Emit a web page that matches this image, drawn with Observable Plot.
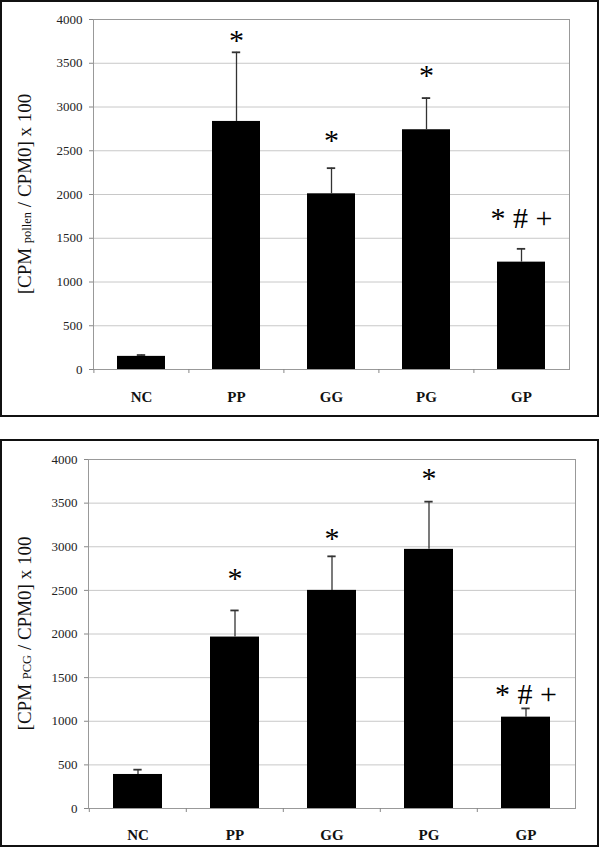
<!DOCTYPE html>
<html><head><meta charset="utf-8">
<script src="https://cdn.jsdelivr.net/npm/d3@7"></script>
<script src="https://cdn.jsdelivr.net/npm/@observablehq/plot@0.6"></script>
<style>
body{margin:0;background:#fff;}
.panel{position:absolute;left:0;width:599px;border:2px solid #111;box-sizing:border-box;background:#fff;}
.panel svg{display:block;}
</style></head><body>
<div id="p1" class="panel" style="top:0px;height:417px"></div>
<div id="p2" class="panel" style="top:439px;height:408px"></div>
<script>
// ---- data ----
const categories = ["NC", "PP", "GG", "PG", "GP"];
const yTicks = [0, 500, 1000, 1500, 2000, 2500, 3000, 3500, 4000];

// top panel: CPM pollen / CPM0 x 100
const pollenMeans  = [150, 2835, 2008, 2740, 1227];
const pollenErrors = [15, 790, 293, 362, 152];
const pollenSig    = ["", "*", "*", "*", "* # +"];
const pollenSigY   = [null, 3760, 2617, 3360, 1726];
const pollenLabel  = [["[CPM ", false], ["pollen", true], [" / CPM0] x 100", false]];

// bottom panel: CPM PCG / CPM0 x 100
const pcgMeans  = [390, 1965, 2500, 2970, 1047];
const pcgErrors = [55, 305, 390, 547, 100];
const pcgSig    = ["", "*", "*", "*", "* # +"];
const pcgSigY   = [null, 2638, 3093, 3781, 1305];
const pcgLabel  = [["[CPM ", false], ["PCG", true], [" / CPM0] x 100", false]];

const FONT = "'Liberation Serif', 'Times New Roman', serif";

function panel(el, means, errs, sig, sigY, labelParts, m, h, xPad) {
  const data = categories.map((c, i) => ({c, v: means[i], e: errs[i], s: sig[i], sy: sigY[i]}));
  const W = 595;
  const step = (W - m.left - m.right) / categories.length;
  const bw = step * 0.5;
  const chart = Plot.plot({
    width: W, height: h,
    marginLeft: m.left, marginRight: m.right, marginTop: m.top, marginBottom: m.bottom,
    style: {fontFamily: FONT, background: "#fff", color: "#111"},
    x: {domain: categories, paddingInner: 0.5, paddingOuter: 0.25, label: null},
    y: {domain: [0, 4000], label: null},
    marks: [
      Plot.gridY(yTicks.filter(t => t > 0 && t < 4000), {stroke: "#c8c8c8", strokeOpacity: 1}),
      Plot.frame({stroke: "#999"}),
      Plot.barY(data, {x: "c", y: "v", fill: "#000"}),
      Plot.ruleX(data, {x: "c", y1: "v", y2: d => d.v + d.e, stroke: "#333", strokeWidth: 1.3}),
      Plot.tickY(data, {x: "c", y: d => d.v + d.e, stroke: "#333", strokeWidth: 1.8, insetLeft: bw / 2 - 4, insetRight: bw / 2 - 4}),
      Plot.axisY({ticks: yTicks, tickFormat: d => String(d), tickSize: 4, tickPadding: 7, fontSize: 13, fontFamily: FONT, stroke: "#888", fill: "#222", label: null}),
      Plot.axisX({tickSize: 4, dx: -step / 2, tickFormat: () => "", stroke: "#888", label: null}),
      Plot.axisX({tickSize: 0, tickPadding: xPad, fontSize: 15, fontFamily: FONT, fontWeight: "bold", fill: "#111", label: null}),
      Plot.text(data.filter(d => d.s), {x: "c", y: "sy", text: "s", fontSize: 30, fontFamily: FONT, fill: "#000"})
    ]
  });
  const svg = d3.select(chart);
  const cy = (m.top + (h - m.bottom)) / 2;
  const t = svg.append("text")
    .attr("transform", `translate(29,${cy}) rotate(-90)`)
    .attr("text-anchor", "middle")
    .attr("font-family", FONT)
    .attr("font-size", 19)
    .attr("fill", "#111");
  labelParts.forEach(([txt, small]) => {
    t.append("tspan").attr("font-size", small ? 12.5 : 19).text(txt);
  });
  document.getElementById(el).appendChild(chart);
}

panel("p1", pollenMeans, pollenErrors, pollenSig, pollenSigY, pollenLabel,
      {left: 91, right: 28, top: 17, bottom: 46}, 413, 22);
panel("p2", pcgMeans, pcgErrors, pcgSig, pcgSigY, pcgLabel,
      {left: 86, right: 22, top: 18, bottom: 37}, 404, 21);
</script>
</body></html>
